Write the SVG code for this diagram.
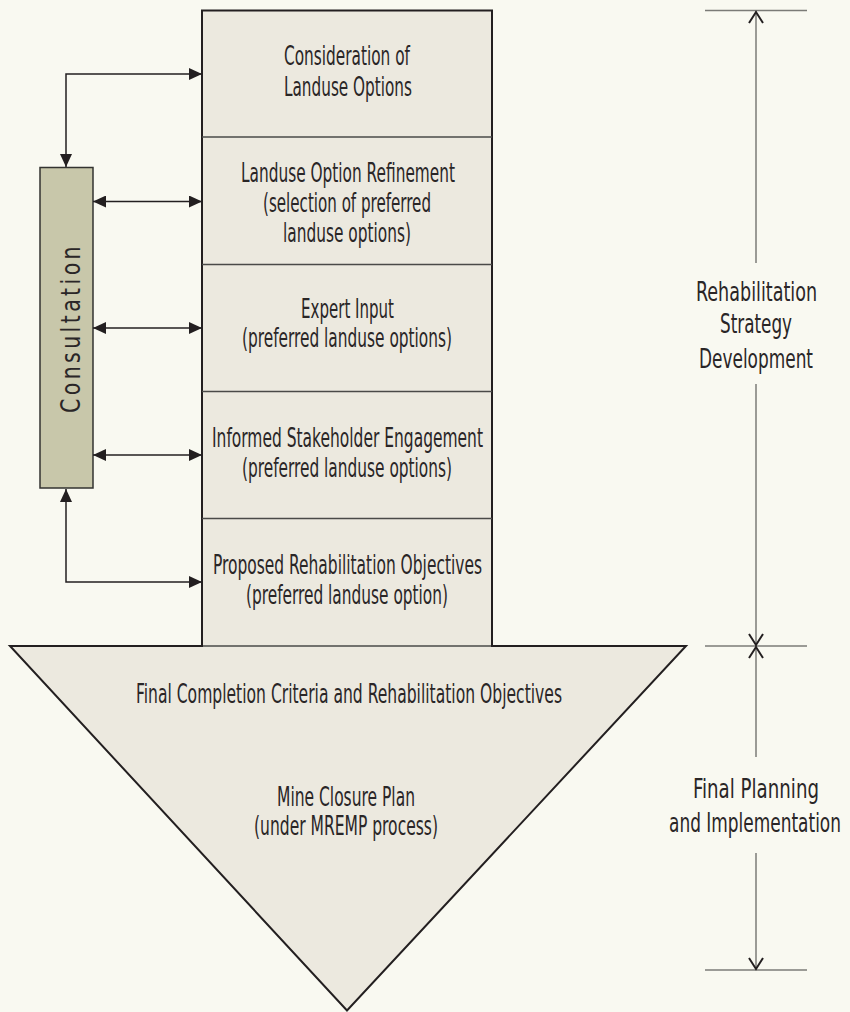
<svg xmlns="http://www.w3.org/2000/svg" width="850" height="1012" viewBox="0 0 850 1012">
<defs>
<style>
.t{font-family:"Liberation Sans Narrow","DejaVu Sans Condensed","Liberation Sans",sans-serif;font-size:26px;fill:#2a2627;text-anchor:middle}
.c{fill:none;stroke:#231f20;stroke-width:1.5}
.dim{fill:none;stroke:#7b7b77;stroke-width:1.5}
.chev{fill:none;stroke:#231f20;stroke-width:2}
.div{stroke:#4a4a48;stroke-width:1.5}
</style>
<marker id="ah" viewBox="0 0 13 12" refX="13" refY="6" markerWidth="13" markerHeight="12" markerUnits="userSpaceOnUse" orient="auto-start-reverse">
<path d="M0,0 L13,6 L0,12 Z" fill="#231f20"/>
</marker>
</defs>
<rect width="850" height="1012" fill="#f9f9f1"/>

<g id="main-arrow">
<path d="M202,10.5 H492 V646 H686 L347,1010.5 L10,646 H202 Z" fill="#ece9df" stroke="#231f20" stroke-width="2" stroke-linejoin="miter"/>
<line class="div" x1="202" y1="137" x2="492" y2="137"/>
<line class="div" x1="202" y1="264.5" x2="492" y2="264.5"/>
<line class="div" x1="202" y1="391.5" x2="492" y2="391.5"/>
<line class="div" x1="202" y1="518.5" x2="492" y2="518.5"/>
<line class="div" x1="203" y1="646" x2="491" y2="646"/>
</g>

<g id="node-consideration">
<text class="t" x="347" y="65" textLength="126" lengthAdjust="spacingAndGlyphs">Consideration of</text>
<text class="t" x="348" y="96" textLength="128" lengthAdjust="spacingAndGlyphs">Landuse Options</text>
</g>
<g id="node-refinement">
<text class="t" x="348" y="182" textLength="214" lengthAdjust="spacingAndGlyphs">Landuse Option Refinement</text>
<text class="t" x="347" y="212" textLength="168" lengthAdjust="spacingAndGlyphs">(selection of preferred</text>
<text class="t" x="347" y="242" textLength="128" lengthAdjust="spacingAndGlyphs">landuse options)</text>
</g>
<g id="node-expert">
<text class="t" x="347.5" y="318" textLength="93" lengthAdjust="spacingAndGlyphs">Expert Input</text>
<text class="t" x="347" y="347" textLength="210" lengthAdjust="spacingAndGlyphs">(preferred landuse options)</text>
</g>
<g id="node-stakeholder">
<text class="t" x="347.5" y="447" textLength="271" lengthAdjust="spacingAndGlyphs">Informed Stakeholder Engagement</text>
<text class="t" x="347" y="477" textLength="210" lengthAdjust="spacingAndGlyphs">(preferred landuse options)</text>
</g>
<g id="node-proposed">
<text class="t" x="347.5" y="574" textLength="269" lengthAdjust="spacingAndGlyphs">Proposed Rehabilitation Objectives</text>
<text class="t" x="347" y="604" textLength="202" lengthAdjust="spacingAndGlyphs">(preferred landuse option)</text>
</g>
<g id="node-final">
<text class="t" x="349" y="703" textLength="426" lengthAdjust="spacingAndGlyphs">Final Completion Criteria and Rehabilitation Objectives</text>
<text class="t" x="346" y="806" textLength="138" lengthAdjust="spacingAndGlyphs">Mine Closure Plan</text>
<text class="t" x="346" y="835" textLength="184" lengthAdjust="spacingAndGlyphs">(under MREMP process)</text>
</g>

<g id="node-consultation">
<rect x="40" y="167.5" width="53" height="320.5" fill="#c8c7aa" stroke="#333330" stroke-width="1.5"/>
<text class="t" transform="translate(80,328) rotate(-90)" x="0" y="0" style="font-size:27px;letter-spacing:4px" textLength="170" lengthAdjust="spacingAndGlyphs">Consultation</text>
</g>

<g id="connectors">
<path class="c" d="M66,167 V74 H202" marker-start="url(#ah)" marker-end="url(#ah)"/>
<line class="c" x1="93" y1="201.5" x2="202" y2="201.5" marker-start="url(#ah)" marker-end="url(#ah)"/>
<line class="c" x1="93" y1="328" x2="202" y2="328" marker-start="url(#ah)" marker-end="url(#ah)"/>
<line class="c" x1="93" y1="455" x2="202" y2="455" marker-start="url(#ah)" marker-end="url(#ah)"/>
<path class="c" d="M66,489 V582 H202" marker-start="url(#ah)" marker-end="url(#ah)"/>
</g>

<g id="dimension">
<line class="dim" x1="705" y1="10.5" x2="807" y2="10.5"/>
<line class="dim" x1="705" y1="646" x2="807" y2="646"/>
<line class="dim" x1="705" y1="970" x2="807" y2="970"/>
<line class="dim" x1="756" y1="10.5" x2="756" y2="263"/>
<line class="dim" x1="756" y1="384" x2="756" y2="646"/>
<line class="dim" x1="756" y1="646" x2="756" y2="757"/>
<line class="dim" x1="756" y1="853" x2="756" y2="970"/>
<path class="chev" d="M749,23 L756,12 L763,23"/>
<path class="chev" d="M749,634 L756,645 L763,634"/>
<path class="chev" d="M749,658 L756,647 L763,658"/>
<path class="chev" d="M749,958 L756,969 L763,958"/>
</g>

<g id="label-strategy">
<text class="t" transform="translate(756.5,301) scale(0.7,1)" x="0" y="0" textLength="172.9" lengthAdjust="spacingAndGlyphs">Rehabilitation</text>
<text class="t" transform="translate(756,333) scale(0.7,1)" x="0" y="0" textLength="102.9" lengthAdjust="spacingAndGlyphs">Strategy</text>
<text class="t" transform="translate(756,368) scale(0.7,1)" x="0" y="0" textLength="162.9" lengthAdjust="spacingAndGlyphs">Development</text>
</g>
<g id="label-final">
<text class="t" transform="translate(756,798) scale(0.7,1)" x="0" y="0" textLength="180" lengthAdjust="spacingAndGlyphs">Final Planning</text>
<text class="t" transform="translate(755,832) scale(0.7,1)" x="0" y="0" textLength="245.7" lengthAdjust="spacingAndGlyphs">and Implementation</text>
</g>
</svg>
